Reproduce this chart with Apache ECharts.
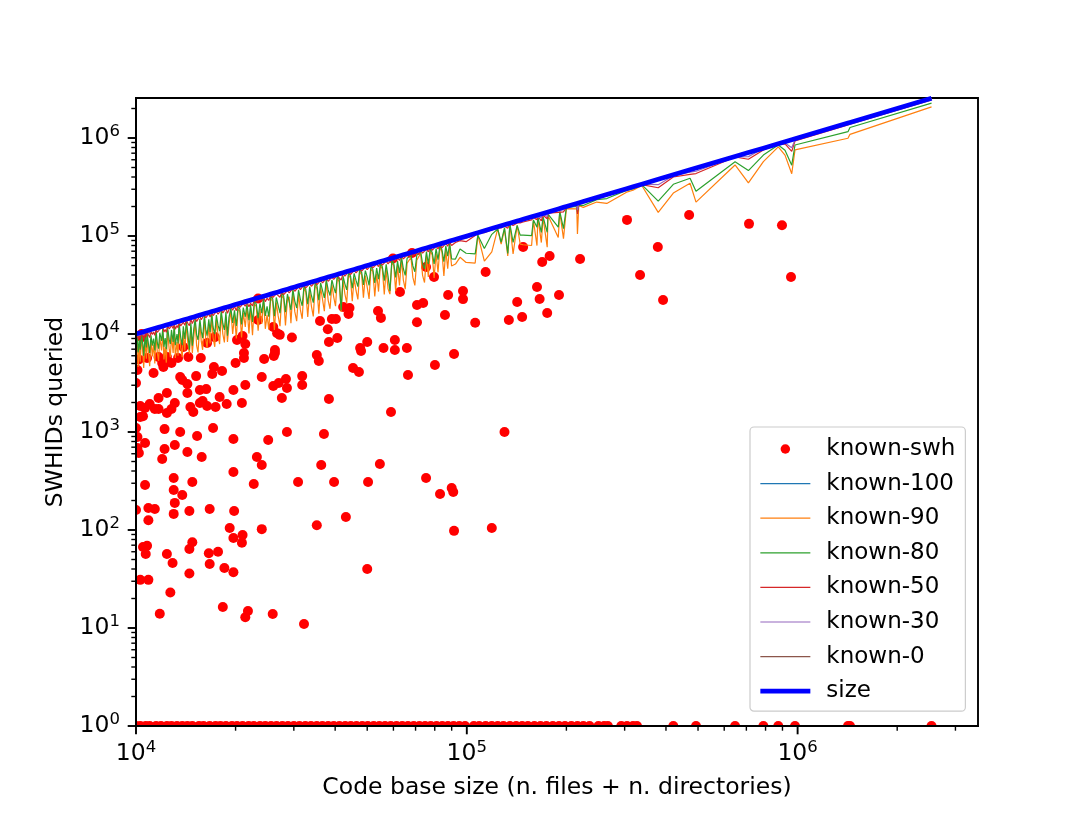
<!DOCTYPE html>
<html>
<head>
<meta charset="utf-8">
<title>SWHIDs queried vs code base size</title>
<script src="https://cdn.jsdelivr.net/npm/echarts@6.0.0/dist/echarts.min.js"></script>
<style>
html, body { margin: 0; padding: 0; background: #fff; }
#chart { width: 1088px; height: 816px; }
</style>
</head>
<body>
<div id="chart"></div>
<script>
// code base sizes (x) of the repositories drawn as lines, sorted
var sizes = [
    10000, 10100, 10150, 10250, 10300, 10400, 10500, 10550, 10650, 10750,
    10800, 10900, 11000, 11100, 11200, 11300, 11400, 11500, 11600, 11700,
    11800, 11950, 12050, 12150, 12250, 12350, 12450, 12600, 12700, 12800,
    12950, 13050, 13150, 13300, 13400, 13500, 13650, 13800, 13900, 14050,
    14200, 14350, 14500, 14650, 14800, 14950, 15100, 15250, 15400, 15600,
    15750, 15900, 16100, 16250, 16400, 16600, 16750, 16950, 17100, 17300,
    17500, 17700, 17900, 18100, 18300, 18500, 18700, 18900, 19100, 19350,
    19600, 19850,
    20100, 20350, 20600, 20850, 21100, 21400, 21650, 21950, 22200, 22500,
    22800, 23100, 23400, 23700, 24000, 24300, 24600, 24900, 25200, 25550,
    25900, 26200, 26550, 26900, 27250, 27600, 27950, 28300, 28700, 29050,
    29400, 29800, 30200, 30600, 31000, 31400, 31800, 32200, 32600, 33050,
    33500, 33900, 34350, 34800, 35250, 35700, 36150, 36650, 37100, 37600,
    38100, 38600, 39100, 39600, 40100, 40600, 41150, 41700, 42250, 42800,
    43350, 43900, 44500, 45050, 45650, 46250, 46850, 47450, 48100, 48700,
    49350,
    50000, 50650, 51300, 52000, 52700, 53400, 54100, 54800, 55550, 56300,
    57050, 57800, 58550, 59350, 60150, 60950, 61750, 62600, 63450, 64300,
    65150, 66000, 66900, 67800, 68700, 69650, 70600, 71550, 72500, 73500,
    74500, 75500, 76500, 77550, 78600, 79650, 80750, 81850, 82950, 84100,
    85250, 86400, 87550, 88750, 89950, 91150, 92400,
    9.54e4, 9.95e4, 1.06e5, 1.08e5, 1.13e5, 1.19e5, 1.24e5, 1.27e5, 1.30e5, 1.33e5,
    1.35e5, 1.38e5, 1.42e5, 1.45e5, 1.48e5, 1.57e5, 1.59e5, 1.63e5, 1.64e5, 1.68e5,
    1.70e5, 1.75e5, 1.76e5, 1.89e5, 1.91e5, 1.96e5, 2.00e5, 2.15e5, 2.16e5, 2.18e5,
    2.25e5, 2.47e5, 2.65e5, 3.04e5, 3.18e5,
    3.38e5, 3.79e5, 4.21e5, 4.73e5, 4.93e5, 6.47e5, 7.10e5, 7.88e5, 8.74e5, 9.16e5,
    9.60e5, 9.82e5, 1.42e6, 1.44e6, 2.54e6
];

var known90 = [
    5500, 9100, 4600, 7700, 5200, 9600, 6000, 4500, 8500, 5600,
    9700, 6500, 4700, 8900, 5900, 7800, 5000, 10400, 6400, 5300,
    9200, 6800, 10800, 5500, 7400, 5100, 11000, 7000, 5800, 9700,
    6400, 11800, 5700, 8300, 6000, 12200, 7300, 5800, 10700, 6800,
    12800, 8000, 6300, 11800, 6400, 9300, 13400, 7600, 6500, 12900,
    8400, 6900, 14500, 8900, 7200, 12400, 8000, 15300, 9200, 7400,
    14000, 9700, 7900, 16200, 10000, 8200, 15000, 8300, 12400, 17400,
    10000, 15500,
    9000, 17900, 17000, 9200, 16500, 11800, 19100, 10100, 18500, 9700,
    20500, 19000, 10800, 18000, 12700, 22100, 11300, 15700, 11100, 23300,
    21500, 11000, 21000, 15300, 12000, 24800, 23000, 12200, 22700, 24000,
    12900, 27100, 16900, 13500, 25400, 17600, 14300, 29300, 27000, 14900,
    27500, 19300, 15100, 31700, 29000, 16100, 30000, 30300, 17100, 34200,
    22100, 18100, 32100, 23800, 19200, 37400, 34000, 16800, 35500, 25700,
    20800, 40400, 37000, 21600, 37400, 27800, 22500, 43700, 40000, 23400,
    39500,
    30000, 22800, 46200, 43500, 24200, 41400, 27100, 50400, 46000, 25300,
    45600, 28900, 25500, 53400, 50000, 27400, 49400, 31300, 58400, 35400,
    28700, 52800, 55000, 60300, 37800, 31300, 56500, 59000, 66700, 39700,
    33500, 62700, 38300, 71300, 64000, 37400, 66200, 42600, 77100, 69000,
    39200, 71700, 46400, 80700, 49500, 50100, 51700,
    6.06e4, 5.37e4, 5.3e4, 1.02e5, 5.54e4, 6.9e4, 1.18e5, 8.26e4, 1.17e5, 6.25e4,
    1.32e5, 6.56e4, 1.28e5, 8.27e4, 8.14e4, 8.0e4, 1.43e5, 7.99e4, 1.56e5, 8.57e4,
    1.55e5, 7.7e4, 1.62e5, 9.64e4, 1.76e5, 9.41e4, 1.9e5, 1.89e5, 1.05e5, 2.05e5,
    1.96e5, 2.22e5, 2.15e5, 2.8e5, 2.93e5,
    3.28e5, 1.74e5, 2.74e5, 3.45e5, 2.22e5, 5.31e5, 3.48e5, 5.75e5, 8.13e5, 6.69e5,
    4.32e5, 7.56e5, 9.94e5, 1.09e6, 2.08e6
];

var known80 = [
    7200, 9500, 6500, 8700, 6900, 9900, 7600, 6000, 9300, 7300,
    10200, 8000, 6400, 9700, 7600, 9000, 6800, 10900, 8100, 7100,
    10300, 8500, 11400, 7400, 9100, 7000, 11700, 8800, 7900, 11000,
    8300, 12400, 7700, 10000, 8000, 12900, 9300, 7700, 12000, 8900,
    13500, 10100, 6900, 13000, 7600, 11300, 14200, 9800, 8700, 14200,
    10700, 9100, 15300, 11200, 9600, 14100, 10500, 16200, 11800, 10000,
    15600, 12300, 10700, 17200, 12800, 11000, 16800, 9600, 14800, 18400,
    13000, 17400,
    12100, 19100, 18000, 12500, 18600, 15000, 20300, 13800, 19800, 13300,
    21700, 20200, 14500, 20600, 16300, 23100, 15300, 19100, 15000, 24400,
    22800, 15200, 23600, 19600, 16300, 26200, 24400, 16700, 25500, 25500,
    17600, 28500, 21700, 18400, 28200, 22600, 19400, 30800, 28600, 20200,
    30500, 24700, 20900, 33300, 31000, 22100, 33200, 32200, 23400, 35800,
    28200, 24700, 35600, 30100, 26100, 39200, 36300, 17500, 39000, 32500,
    28200, 42300, 39300, 29300, 41500, 35200, 30400, 45600, 42500, 31700,
    44400,
    38000, 31400, 49200, 45500, 33200, 47000, 36200, 52600, 48500, 35000,
    51300, 38700, 27500, 56400, 52500, 37800, 55600, 42000, 61000, 46300,
    39700, 59400, 57800, 63700, 49500, 43200, 63500, 62000, 69600, 52200,
    46200, 69500, 52000, 74400, 68000, 51800, 74300, 57300, 80500, 72500,
    54600, 79500, 62200, 84300, 58500, 57400, 58200,
    7.35e4, 6.67e4, 6.57e4, 1.02e5, 7.46e4, 1.04e5, 1.18e5, 8.64e4, 1.21e5, 6.65e4,
    1.32e5, 8.63e4, 1.28e5, 1.02e5, 1.02e5, 1.01e5, 1.46e5, 1.23e5, 1.57e5, 1.09e5,
    1.58e5, 1.09e5, 1.67e5, 1.23e5, 1.78e5, 1.19e5, 1.96e5, 2.0e5, 1.75e5, 2.05e5,
    2.05e5, 2.35e5, 2.41e5, 2.92e5, 3.02e5,
    3.35e5, 2.27e5, 3.37e5, 3.88e5, 2.86e5, 5.73e5, 4.65e5, 6.7e5, 8.48e5, 7.51e5,
    5.28e5, 8.49e5, 1.16e6, 1.28e6, 2.27e6
];

var known50 = [
    9000, 9800, 8900, 9600, 9100, 10200, 9400, 8800, 10100, 9500,
    10500, 9800, 9200, 10600, 9900, 10500, 9700, 11200, 10400, 10000,
    11200, 10700, 11800, 10500, 11100, 10400, 12100, 11300, 11000, 12200,
    11400, 12800, 11200, 12200, 11600, 13200, 12100, 11600, 13200, 12300,
    13900, 12800, 12200, 14100, 12800, 13800, 14800, 13400, 13000, 15200,
    14000, 13600, 15800, 14600, 14100, 16000, 14900, 16600, 15400, 14900,
    17000, 15900, 15400, 17800, 16400, 15900, 18200, 16300, 17800, 19000,
    17500, 19200,
    17300, 19900, 18700, 17900, 20400, 19200, 21100, 19000, 20600, 19400,
    22400, 21000, 20400, 22800, 21600, 23900, 21400, 23200, 22000, 25100,
    23600, 22800, 25700, 24600, 23700, 27100, 25200, 24600, 27800, 26300,
    25600, 29300, 27300, 26600, 30200, 28400, 27700, 31700, 29500, 28800,
    32600, 30700, 29900, 34300, 31900, 31100, 35300, 33200, 32300, 37000,
    34500, 33600, 38100, 36000, 34900, 40000, 37400, 35400, 41300, 38900,
    37700, 43300, 40500, 39200, 44500, 42100, 40800, 46700, 43800, 42400,
    48100,
    45500, 43600, 50500, 47300, 45800, 51800, 48700, 54000, 50500, 49000,
    55400, 52000, 50400, 58500, 54700, 53000, 60000, 56300, 62600, 58500,
    56700, 64000, 60200, 66800, 62500, 60600, 68500, 64400, 71500, 66900,
    64800, 73600, 68900, 76500, 71500, 69300, 78800, 73700, 82000, 75700,
    73300, 84300, 78800, 87000, 80100, 83900, 85900,
    8.97e4, 8.76e4, 1.01e5, 1.07e5, 1.08e5, 1.15e5, 1.22e5, 1.21e5, 1.26e5, 1.2e5,
    1.34e5, 1.28e5, 1.36e5, 1.36e5, 1.39e5, 1.46e5, 1.54e5, 1.47e5, 1.59e5, 1.43e5,
    1.63e5, 1.5e5, 1.71e5, 1.74e5, 1.81e5, 1.76e5, 1.96e5, 2.09e5, 1.68e5, 2.11e5,
    2.18e5, 2.42e5, 2.57e5, 2.98e5, 3.12e5,
    3.35e5, 3.11e5, 4.0e5, 4.26e5, 4.34e5, 6.4e5, 6.07e5, 7.56e5, 8.65e5, 8.7e5,
    7.3e5, 9.33e5, 1.36e6, 1.38e6, 2.44e6
];

var known30 = [
    9600, 10000, 9600, 10000, 9800, 10300, 10000, 9700, 10400, 10200,
    10700, 10400, 10200, 10900, 10700, 11000, 10800, 11400, 11100, 11000,
    11600, 11500, 11950, 11600, 11900, 11700, 12300, 12200, 12100, 12600,
    12400, 12950, 12500, 12900, 12800, 13400, 13100, 13000, 13700, 13500,
    14100, 13800, 13700, 14500, 14000, 14600, 15000, 14600, 14600, 15500,
    15100, 15100, 16000, 15600, 15600, 16400, 16000, 16850, 16500, 16500,
    17350, 17000, 17000, 18000, 17600, 17600, 18550, 18000, 18700, 19200,
    18900, 19600,
    19300, 20200, 19900, 19900, 20900, 20600, 21500, 20900, 21700, 21500,
    22700, 22300, 22400, 23400, 23100, 24200, 23600, 24400, 24200, 25400,
    25000, 25000, 26300, 26000, 26100, 27450, 26900, 27100, 28400, 28000,
    28200, 29650, 29100, 29300, 30750, 30300, 30500, 32050, 31400, 31700,
    33200, 32700, 32900, 34650, 34000, 34200, 35900, 35400, 35600, 37400,
    36700, 37000, 38800, 38200, 38500, 40400, 39700, 39600, 41900, 41300,
    41400, 43700, 42900, 43200, 45300, 44600, 44900, 47200, 46400, 46700,
    49000,
    48200, 48100, 51000, 50200, 50300, 53000, 52000, 54500, 53500, 53800,
    56600, 55500, 55600, 59100, 57800, 58000, 61300, 60100, 63200, 61700,
    62000, 65500, 64200, 67500, 66000, 66200, 70100, 68700, 72200, 70600,
    70800, 75000, 73400, 77200, 75500, 75700, 80200, 78600, 82600, 80700,
    81000, 85800, 84000, 88300, 86400, 88400, 89600,
    9.25e4, 9.45e4, 1.03e5, 1.08e5, 1.11e5, 1.17e5, 1.23e5, 1.23e5, 1.29e5, 1.26e5,
    1.35e5, 1.34e5, 1.39e5, 1.41e5, 1.44e5, 1.52e5, 1.57e5, 1.55e5, 1.62e5, 1.55e5,
    1.67e5, 1.58e5, 1.72e5, 1.81e5, 1.87e5, 1.86e5, 1.98e5, 2.11e5, 1.84e5, 2.14e5,
    2.2e5, 2.45e5, 2.62e5, 3.01e5, 3.15e5,
    3.38e5, 3.34e5, 4.13e5, 4.49e5, 4.58e5, 6.4e5, 6.46e5, 7.8e5, 8.74e5, 8.89e5,
    7.97e5, 9.53e5, 1.41e6, 1.43e6, 2.51e6
];

// known-100 and known-0 sit exactly on the size line in the picture (hidden under it)
var known100 = sizes;
var known0 = sizes;

// known-swh scatter: [size, SWHIDs queried]
var knownSwh = [
    [1.04e4, 1.0e4], [2.34e4, 2.3e4], [2.34e4, 1.39e4], [2.60e4, 1.18e4], [2.72e4, 9.8e3],
    [2.96e4, 9.2e3], [3.60e4, 1.36e4], [3.80e4, 1.12e4], [3.91e4, 1.42e4], [4.02e4, 1.42e4],
    [4.23e4, 1.89e4], [4.42e4, 1.84e4], [4.39e4, 1.60e4], [3.83e4, 8.3e3], [4.06e4, 9.1e3],
    [5.00e4, 8.3e3], [5.39e4, 1.72e4], [5.50e4, 1.46e4], [5.98e4, 5.9e4], [6.28e4, 2.68e4],
    [6.06e4, 8.7e3], [6.83e4, 6.7e4], [7.07e4, 1.98e4], [7.38e4, 2.07e4], [7.07e4, 1.32e4],
    [7.53e4, 4.83e4], [7.96e4, 3.82e4], [8.59e4, 1.56e4], [8.78e4, 2.50e4], [9.74e4, 2.75e4],
    [9.74e4, 2.27e4], [6.59e4, 7.2e3], [5.60e4, 7.2e3], [6.06e4, 6.87e3], [4.76e4, 7.2e3],
    [2.63e4, 6.87e3], [1.64e4, 8.1e3], [1.73e4, 9.3e3], [2.02e4, 8.7e3], [2.10e4, 9.55e3],
    [2.14e4, 7.9e3], [1.39e4, 7.37e3], [1.48e5, 7.72e4], [1.69e5, 5.43e4], [1.78e5, 6.25e4],
    [1.14e5, 4.29e4], [1.06e5, 1.30e4], [1.34e5, 1.39e4], [1.47e5, 1.49e4], [1.42e5, 2.12e4],
    [1.63e5, 3.02e4], [1.66e5, 2.28e4], [1.75e5, 1.64e4], [1.90e5, 2.50e4], [2.20e5, 5.82e4],
    [3.05e5, 1.46e5], [3.78e5, 7.72e4], [3.34e5, 4.0e4], [3.92e5, 2.22e4], [4.70e5, 1.64e5],
    [7.13e5, 1.33e5], [8.97e5, 1.29e5], [9.55e5, 3.82e4], [2.67e4, 1.02e4], [4.79e4, 6.7e3],
    [9.15e4, 6.25e3], [8.01e4, 4.83e3], [6.64e4, 3.82e3], [4.53e4, 4.5e3], [4.72e4, 4.1e3],
    [3.52e4, 6.11e3], [3.57e4, 5.3e3], [3.18e4, 3.72e3], [3.18e4, 3.02e3], [2.84e4, 3.47e3],
    [2.70e4, 3.16e3], [2.86e4, 2.81e3], [2.76e4, 2.22e3], [2.60e4, 2.95e3], [3.83e4, 2.17e3],
    [5.90e4, 1.6e3], [2.63e4, 6.4e3], [2.61e4, 5.97e3], [2.44e4, 5.56e3], [2.12e4, 6.4e3],
    [2.12e4, 5.69e3], [2.00e4, 5.06e3], [2.14e4, 3.02e3], [2.40e4, 3.64e3], [1.97e4, 2.68e3],
    [2.09e4, 1.98e3], [1.88e4, 1.93e3], [1.79e4, 2.28e3], [1.74e4, 1.80e3], [1.82e4, 4.19e3],
    [1.70e4, 3.91e3], [1.72e4, 4.6e3], [1.57e4, 5.69e3], [1.52e4, 3.72e3], [1.36e4, 3.64e3],
    [1.38e4, 3.40e3], [1.43e4, 3.09e3], [1.43e4, 2.50e3], [1.56e4, 2.68e3], [1.63e4, 2.74e3],
    [1.64e4, 1.84e3], [1.56e4, 1.98e3], [1.59e4, 2.07e3], [1.49e4, 1.60e3], [1.46e4, 1.80e3],
    [1.31e4, 1.98e3], [1.28e4, 1.72e3], [1.24e4, 1.56e3], [1.24e4, 2.50e3], [1.17e4, 2.22e3],
    [1.13e4, 4.0e3], [1.21e4, 4.6e3], [1.20e4, 5.06e3], [1.21e4, 5.18e3], [1.28e4, 5.06e3],
    [1.08e4, 5.69e3], [1.17e4, 5.82e3], [1.24e4, 5.82e3], [1.34e4, 5.69e3], [1.44e4, 5.82e3],
    [1.03e4, 1.84e3], [1.065e4, 1.76e3], [1.10e4, 1.93e3], [1.14e4, 1.72e3], [1.17e4, 1.72e3],
    [1.03e4, 1.42e3], [1.05e4, 1.45e3], [1.00e4, 1.10e3], [1.01e4, 4.29e3], [1.00e4, 3.16e3],
    [1.01e4, 889], [1.065e4, 773], [1.01e4, 687], [1.02e4, 611], [1.22e4, 1.07e3],
    [1.36e4, 1.0e3], [1.53e4, 910], [1.71e4, 1.10e3], [1.31e4, 737], [1.22e4, 671],
    [1.20e4, 530], [1.43e4, 625], [1.58e4, 556], [1.97e4, 849], [2.51e4, 828],
    [2.86e4, 1.0e3], [3.70e4, 955], [2.32e4, 556], [2.40e4, 461], [1.97e4, 391],
    [3.63e4, 461], [5.46e4, 471], [1.30e4, 340], [1.48e4, 309], [1.30e4, 256],
    [1.38e4, 228], [1.31e4, 189], [1.30e4, 146], [1.065e4, 288], [2.27e4, 295],
    [3.09e4, 309], [3.97e4, 309], [5.03e4, 309], [7.53e4, 340], [8.30e4, 233],
    [9.00e4, 268], [9.10e4, 244], [1.00e4, 160], [1.09e4, 168], [1.14e4, 164],
    [1.09e4, 126], [1.45e4, 156], [1.67e4, 164], [1.98e4, 156], [4.31e4, 136],
    [3.52e4, 112], [9.15e4, 98], [1.19e5, 105], [1.92e4, 105], [1.97e4, 83],
    [2.10e4, 89], [2.09e4, 74], [2.40e4, 102], [1.48e4, 75], [1.45e4, 64],
    [1.24e4, 57], [1.29e4, 46], [1.45e4, 36], [1.05e4, 67], [1.08e4, 69],
    [1.07e4, 57], [1.03e4, 31], [1.09e4, 31], [1.66e4, 58], [1.77e4, 60],
    [1.67e4, 45], [1.85e4, 41], [1.97e4, 37], [5.00e4, 40], [1.27e4, 23],
    [1.18e4, 14], [1.83e4, 16.4], [2.18e4, 14.9], [2.14e4, 12.9], [2.59e4, 13.9],
    [3.22e4, 11], [1.30e5, 1.0e3], [1.04e4, 9.3e3], [1.02e4, 5.5e3]
];

// sizes of the repositories whose known-swh value is 1 (row of dots on the bottom spine)
var floorSizes = [
    1.00e4, 1.03e4, 1.07e4, 1.10e4, 1.15e4, 1.19e4, 1.24e4, 1.28e4, 1.33e4, 1.38e4,
    1.43e4, 1.48e4, 1.55e4, 1.60e4, 1.67e4, 1.74e4, 1.80e4, 1.87e4, 1.95e4, 2.02e4,
    2.10e4, 2.19e4, 2.27e4, 2.37e4, 2.46e4, 2.56e4, 2.66e4, 2.77e4, 2.88e4, 3.00e4,
    3.12e4, 3.25e4, 3.38e4, 3.52e4, 3.66e4, 3.81e4, 3.96e4, 4.12e4, 4.29e4, 4.46e4,
    4.64e4, 4.83e4, 5.02e4, 5.23e4, 5.44e4, 5.66e4, 5.89e4, 6.13e4, 6.38e4, 6.64e4,
    6.91e4, 7.19e4, 7.48e4, 7.78e4, 8.10e4, 8.43e4, 8.77e4, 9.12e4, 9.49e4, 9.88e4,
    1.05e5, 1.09e5, 1.14e5, 1.19e5, 1.24e5, 1.29e5, 1.35e5, 1.41e5, 1.47e5, 1.53e5,
    1.60e5, 1.67e5, 1.74e5, 1.82e5, 1.90e5, 1.98e5, 2.07e5, 2.16e5, 2.25e5, 2.35e5,
    2.50e5, 2.60e5, 2.67e5, 2.93e5, 3.05e5, 3.18e5, 3.27e5, 4.21e5, 4.93e5, 6.47e5,
    7.88e5, 8.74e5, 9.82e5, 1.42e6, 1.44e6, 2.54e6
];
var floorValue = 1;

// tick values
var xMajor = [1e4, 1e5, 1e6];
var xMinor = [2e4, 3e4, 4e4, 5e4, 6e4, 7e4, 8e4, 9e4,
              2e5, 3e5, 4e5, 5e5, 6e5, 7e5, 8e5, 9e5, 2e6, 3e6];
var yMajor = [1, 10, 100, 1e3, 1e4, 1e5, 1e6];
var yMinor = [2, 3, 4, 5, 6, 7, 8, 9,
              20, 30, 40, 50, 60, 70, 80, 90,
              200, 300, 400, 500, 600, 700, 800, 900,
              2e3, 3e3, 4e3, 5e3, 6e3, 7e3, 8e3, 9e3,
              2e4, 3e4, 4e4, 5e4, 6e4, 7e4, 8e4, 9e4,
              2e5, 3e5, 4e5, 5e5, 6e5, 7e5, 8e5, 9e5, 2e6];

var FONT = 'DejaVu Sans';

function pairs(xs, ys) {
    var out = [];
    for (var i = 0; i < xs.length; i++) out.push([xs[i], ys[i]]);
    return out;
}

function powerLabel(v) {
    var e = Math.log10(v);
    var r = Math.round(e);
    if (Math.abs(e - r) > 1e-6) return '';
    return '{b|10}{s|' + r + '}';
}

var labelRich = {
    b: { fontFamily: FONT, fontSize: 23.5, color: '#000' },
    s: { fontFamily: FONT, fontSize: 16.5, color: '#000', padding: [0, 0, 12, 0] }
};

function lineSeries(name, ys, color, width) {
    return {
        name: name,
        type: 'line',
        data: pairs(sizes, ys),
        symbol: 'none',
        showSymbol: false,
        lineStyle: { color: color, width: width },
        itemStyle: { color: color },
        emphasis: { disabled: true },
        animation: false
    };
}

// line entries in the legend: plain line, no marker
function lineEntry(name) {
    return { name: name, itemStyle: { opacity: 0 } };
}

var floorPoints = floorSizes.map(function (s) { return [s, floorValue]; });

var chart = echarts.init(document.getElementById('chart'));

var option = {
    backgroundColor: '#fff',
    animation: false,
    grid: {
        left: 136, right: 110, top: 98, bottom: 90,
        show: true, borderColor: '#000', borderWidth: 1.9,
        backgroundColor: 'transparent', z: 3
    },
    legend: {
        orient: 'vertical',
        left: 750, top: 427,
        padding: [10, 10, 8, 8],
        itemWidth: 50, itemHeight: 9.5, itemGap: 10.6,
        backgroundColor: '#fff',
        borderColor: '#cccccc', borderWidth: 1.2, borderRadius: 4,
        selectedMode: false,
        lineStyle: { width: 'inherit' },
        textStyle: { fontFamily: FONT, fontSize: 23, color: '#000', lineHeight: 24, padding: [0, 0, 0, 11] },
        data: [
            { name: 'known-swh', icon: 'circle' },
            lineEntry('known-100'), lineEntry('known-90'), lineEntry('known-80'),
            lineEntry('known-50'), lineEntry('known-30'), lineEntry('known-0'),
            lineEntry('size')
        ]
    },
    xAxis: {
        type: 'log', logBase: 10, min: 1e4, max: 3.51e6, z: 100,
        name: 'Code base size (n. files + n. directories)',
        nameLocation: 'middle', nameGap: 50,
        nameTextStyle: { fontFamily: FONT, fontSize: 23.5, color: '#000' },
        axisLine: { show: true, lineStyle: { color: '#000', width: 1.9 } },
        axisTick: { show: false },
        minorTick: { show: false },
        splitLine: { show: false },
        axisLabel: { formatter: powerLabel, margin: 13, color: '#000', rich: labelRich }
    },
    yAxis: {
        type: 'log', logBase: 10, min: 1, max: 2.56e6, z: 100,
        name: 'SWHIDs queried',
        nameLocation: 'middle', nameGap: 68,
        nameTextStyle: { fontFamily: FONT, fontSize: 23.5, color: '#000' },
        axisLine: { show: true, lineStyle: { color: '#000', width: 1.9 } },
        axisTick: { show: false },
        minorTick: { show: false },
        splitLine: { show: false },
        axisLabel: { formatter: powerLabel, margin: 16, color: '#000', rich: labelRich }
    },
    series: [
        {
            name: 'known-swh',
            type: 'scatter',
            data: knownSwh.concat(floorPoints),
            symbol: 'circle',
            symbolSize: 10,
            itemStyle: { color: '#ff0000', opacity: 1 },
            emphasis: { disabled: true },
            animation: false
        },
        lineSeries('known-100', known100, '#1f77b4', 1.2),
        lineSeries('known-90', known90, '#ff7f0e', 1.2),
        lineSeries('known-80', known80, '#2ca02c', 1.2),
        lineSeries('known-50', known50, '#d62728', 1.2),
        lineSeries('known-30', known30, '#9467bd', 1.2),
        lineSeries('known-0', known0, '#8c564b', 1.2),
        lineSeries('size', sizes, '#0000ff', 4.7)
    ]
};

chart.setOption(option);

// matplotlib-style ticks (major + log minor) and clipping masks at the spines
var bottom = chart.convertToPixel({ yAxisIndex: 0 }, 1);
var left = chart.convertToPixel({ xAxisIndex: 0 }, 1e4);

function xTick(v, len, w) {
    var px = chart.convertToPixel({ xAxisIndex: 0 }, v);
    return { type: 'line', silent: true, z: 110,
        shape: { x1: px, y1: bottom, x2: px, y2: bottom + len },
        style: { stroke: '#000', lineWidth: w } };
}
function yTick(v, len, w) {
    var py = chart.convertToPixel({ yAxisIndex: 0 }, v);
    return { type: 'line', silent: true, z: 110,
        shape: { x1: left, y1: py, x2: left - len, y2: py },
        style: { stroke: '#000', lineWidth: w } };
}

var elements = [
    { type: 'rect', silent: true, z: 50,
      shape: { x: left - 40, y: bottom + 1, width: 900, height: 14 }, style: { fill: '#fff' } },
    { type: 'rect', silent: true, z: 50,
      shape: { x: left - 40, y: 80, width: 39, height: bottom - 65 }, style: { fill: '#fff' } }
];
xMajor.forEach(function (v) { elements.push(xTick(v, 8.3, 1.9)); });
xMinor.forEach(function (v) { elements.push(xTick(v, 4.7, 1.4)); });
yMajor.forEach(function (v) { elements.push(yTick(v, 8.3, 1.9)); });
yMinor.forEach(function (v) { elements.push(yTick(v, 4.7, 1.4)); });

chart.setOption({ graphic: { elements: elements } });
</script>
</body>
</html>
